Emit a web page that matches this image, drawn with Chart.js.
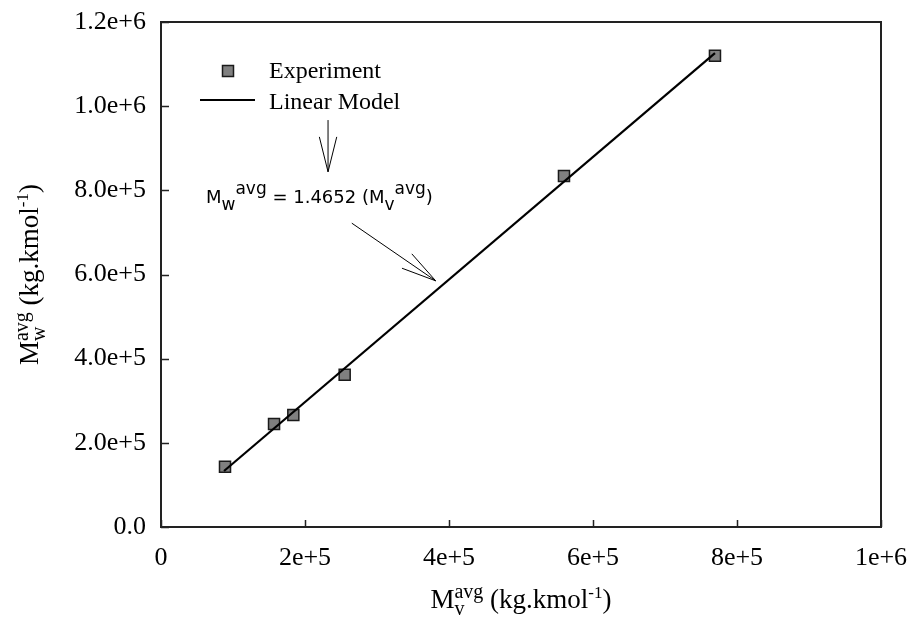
<!DOCTYPE html>
<html lang="en">
<head>
    <meta charset="UTF-8">
    <title>Mw vs Mv</title>
    <script src="https://cdn.jsdelivr.net/npm/chart.js"></script>
    <style>
        body { margin: 0; background: #fff; }
    </style>
</head>
<body>
    <canvas id="mwChart" width="911" height="625"></canvas>

    <script>
        // data
        const expX = [88900, 157000, 183800, 255100, 559700, 769400];
        const expY = [143300, 244800, 266100, 361900, 834100, 1119900];
        const modelX = [87500, 769400];
        const modelY = [133000, 1126000];

        const xTickLabels = ['0', '2e+5', '4e+5', '6e+5', '8e+5', '1e+6'];
        const yTickLabels = ['0.0', '2.0e+5', '4.0e+5', '6.0e+5', '8.0e+5', '1.0e+6', '1.2e+6'];
        const seriesNames = ['Experiment', 'Linear Model'];

        // annotation anchors (data units)
        const eqAnchor = [62500, 770000];
        const arrowDown = { from: [232000, 967000], to: [232000, 844000] };
        const arrowDiag = { from: [265000, 722000], to: [381500, 585000] };

        const SERIF = '"Liberation Serif", "Times New Roman", serif';
        const SANS = '"DejaVu Sans", Verdana, sans-serif';

        // draws runs of text with sup/sub, returns width
        function richText(ctx, runs, x, y, measureOnly) {
            let cx = x;
            runs.forEach(r => {
                ctx.font = r.size + 'px ' + r.family;
                const w = ctx.measureText(r.t).width;
                if (!measureOnly) ctx.fillText(r.t, cx, y - (r.up || 0));
                if (!r.keep) { cx += w; }
            });
            return cx - x;
        }

        function arrow(ctx, x1, y1, x2, y2) {
            const ang = Math.atan2(y2 - y1, x2 - x1);
            const len = 36, spread = 14 * Math.PI / 180;
            ctx.beginPath();
            ctx.moveTo(x1, y1);
            ctx.lineTo(x2, y2);
            ctx.moveTo(x2 - len * Math.cos(ang - spread), y2 - len * Math.sin(ang - spread));
            ctx.lineTo(x2, y2);
            ctx.lineTo(x2 - len * Math.cos(ang + spread), y2 - len * Math.sin(ang + spread));
            ctx.stroke();
        }

        const titleX = [
            { t: 'M', size: 27, family: SERIF },
            { t: 'v', size: 20, family: SERIF, up: -7, keep: true },
            { t: 'avg', size: 20, family: SERIF, up: 10 },
            { t: ' (kg.kmol', size: 27, family: SERIF },
            { t: '-1', size: 17, family: SERIF, up: 10 },
            { t: ')', size: 27, family: SERIF }
        ];
        const titleY = [
            { t: 'M', size: 27, family: SERIF },
            { t: 'w', size: 20, family: SERIF, up: -7, keep: true },
            { t: 'avg', size: 20, family: SERIF, up: 10 },
            { t: ' (kg.kmol', size: 27, family: SERIF },
            { t: '-1', size: 17, family: SERIF, up: 10 },
            { t: ')', size: 27, family: SERIF }
        ];
        const equation = [
            { t: 'M', size: 18, family: SANS },
            { t: 'w', size: 17, family: SANS, up: -7 },
            { t: 'avg', size: 17, family: SANS, up: 9 },
            { t: ' = 1.4652 (M', size: 18, family: SANS },
            { t: 'v', size: 17, family: SANS, up: -7 },
            { t: 'avg', size: 17, family: SANS, up: 9 },
            { t: ')', size: 18, family: SANS }
        ];

        const decorations = {
            id: 'decorations',
            afterDraw(chart) {
                const ctx = chart.ctx;
                const a = chart.chartArea;
                const xs = chart.scales.x, ys = chart.scales.y;
                ctx.save();

                // frame
                ctx.strokeStyle = '#222';
                ctx.lineWidth = 2;
                ctx.strokeRect(a.left, a.top, a.right - a.left, a.bottom - a.top);

                // inward ticks
                ctx.lineWidth = 1.5;
                ctx.beginPath();
                xs.ticks.forEach(t => {
                    const px = Math.round(xs.getPixelForValue(t.value)) + 0.5;
                    ctx.moveTo(px, a.bottom);
                    ctx.lineTo(px, a.bottom - 7);
                });
                ys.ticks.forEach(t => {
                    const py = Math.round(ys.getPixelForValue(t.value)) + 0.5;
                    ctx.moveTo(a.left, py);
                    ctx.lineTo(a.left + 8, py);
                });
                ctx.stroke();

                // axis titles
                ctx.fillStyle = '#000';
                ctx.textBaseline = 'alphabetic';
                ctx.textAlign = 'left';
                const cxMid = (a.left + a.right) / 2;
                const wx = richText(ctx, titleX, 0, 0, true);
                richText(ctx, titleX, cxMid - wx / 2, 608);

                const wy = richText(ctx, titleY, 0, 0, true);
                ctx.save();
                ctx.translate(38, (a.top + a.bottom) / 2);
                ctx.rotate(-Math.PI / 2);
                richText(ctx, titleY, -wy / 2, 0);
                ctx.restore();

                // legend
                const ds0 = chart.data.datasets[0];
                const lx = a.left + 67, ly = a.top + 49;
                ctx.fillStyle = ds0.backgroundColor;
                ctx.strokeStyle = ds0.borderColor;
                ctx.lineWidth = 1.5;
                ctx.fillRect(lx - 5.5, ly - 5.5, 11, 11);
                ctx.strokeRect(lx - 5.5, ly - 5.5, 11, 11);
                ctx.strokeStyle = '#000';
                ctx.lineWidth = 2;
                ctx.beginPath();
                ctx.moveTo(a.left + 39, a.top + 78);
                ctx.lineTo(a.left + 94, a.top + 78);
                ctx.stroke();
                ctx.fillStyle = '#000';
                ctx.font = '24px ' + SERIF;
                ctx.fillText(seriesNames[0], a.left + 108, a.top + 56);
                ctx.fillText(seriesNames[1], a.left + 108, a.top + 87);

                // equation and arrows
                richText(ctx, equation, xs.getPixelForValue(eqAnchor[0]), ys.getPixelForValue(eqAnchor[1]));
                ctx.strokeStyle = '#000';
                ctx.lineWidth = 1;
                [arrowDown, arrowDiag].forEach(ar => {
                    arrow(ctx,
                        xs.getPixelForValue(ar.from[0]), ys.getPixelForValue(ar.from[1]),
                        xs.getPixelForValue(ar.to[0]), ys.getPixelForValue(ar.to[1]));
                });

                ctx.restore();
            }
        };

        const ctx = document.getElementById('mwChart').getContext('2d');
        new Chart(ctx, {
            type: 'scatter',
            data: {
                datasets: [{
                    label: seriesNames[0],
                    data: expX.map((x, i) => ({ x: x, y: expY[i] })),
                    pointStyle: 'rect',
                    pointRadius: 7.8,
                    pointHoverRadius: 7.8,
                    backgroundColor: '#808080',
                    borderColor: '#1a1a1a',
                    borderWidth: 1.5,
                    order: 1
                }, {
                    label: seriesNames[1],
                    type: 'line',
                    data: modelX.map((x, i) => ({ x: x, y: modelY[i] })),
                    showLine: true,
                    borderColor: '#000',
                    borderWidth: 2.2,
                    pointRadius: 0,
                    fill: false,
                    tension: 0,
                    order: 0
                }]
            },
            options: {
                responsive: false,
                animation: false,
                layout: { padding: { top: 22, right: 30, left: 0, bottom: 0 } },
                plugins: {
                    legend: { display: false },
                    tooltip: { enabled: false }
                },
                scales: {
                    x: {
                        type: 'linear',
                        min: 0,
                        max: 1000000,
                        grid: { display: false, drawTicks: false },
                        border: { display: false },
                        ticks: {
                            stepSize: 200000,
                            padding: 16,
                            color: '#000',
                            font: { family: SERIF, size: 26 },
                            maxRotation: 0,
                            callback: (v, i) => xTickLabels[i]
                        },
                        afterFit: s => {
                            s.height = 98;
                            s.paddingLeft = 0;
                            s.paddingRight = 0;
                        }
                    },
                    y: {
                        type: 'linear',
                        min: 0,
                        max: 1200000,
                        grid: { display: false, drawTicks: false },
                        border: { display: false },
                        ticks: {
                            stepSize: 200000,
                            padding: 15,
                            color: '#000',
                            font: { family: SERIF, size: 26 },
                            callback: (v, i) => yTickLabels[i]
                        },
                        afterFit: s => {
                            s.width = 161;
                            s.paddingTop = 0;
                            s.paddingBottom = 0;
                        }
                    }
                }
            },
            plugins: [decorations]
        });
    </script>
</body>
</html>
